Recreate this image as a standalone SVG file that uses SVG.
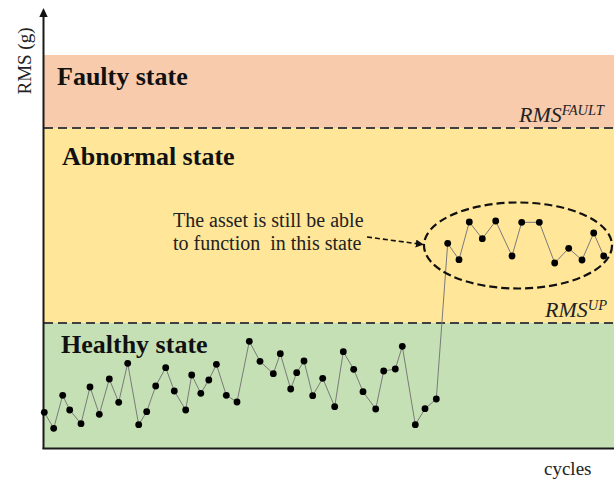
<svg xmlns="http://www.w3.org/2000/svg" width="614" height="484" viewBox="0 0 614 484">
  <style>
    .band-title { font-family: "Liberation Serif", "Times New Roman", serif; font-weight: bold; font-size: 26px; fill: #111; }
    .label { font-family: "Liberation Serif", "Times New Roman", serif; font-size: 19px; fill: #222; }
    .note { font-family: "Liberation Serif", "Times New Roman", serif; font-size: 20px; fill: #222; }
    .thr { font-family: "Liberation Serif", "Times New Roman", serif; font-style: italic; font-size: 22px; fill: #222; }
    .thr-sup { font-size: 14.5px; }
    .threshold { stroke: #404040; stroke-width: 2; stroke-dasharray: 9 5; fill: none; }
    .trace { fill: none; stroke: #7a7a7a; stroke-width: 1; }
    .pt { fill: #000; }
    .axis { stroke: #1a1a1a; stroke-width: 2; fill: none; }
  </style>
  <defs>
    <marker id="tip" viewBox="0 0 10 10" refX="9" refY="5" markerWidth="5" markerHeight="5" orient="auto">
      <path d="M0,0 L10,5 L0,10 z" fill="#111"/>
    </marker>
  </defs>

  <rect width="614" height="484" fill="#fff"/>

  <!-- state bands -->
  <g id="faulty-band">
    <rect x="44" y="55" width="570" height="73" fill="#F8CBAD"/>
    <text class="band-title" x="57" y="85">Faulty state</text>
  </g>
  <g id="abnormal-band">
    <rect x="44" y="128" width="570" height="195" fill="#FFE699"/>
    <text class="band-title" x="62" y="165">Abnormal state</text>
  </g>
  <g id="healthy-band">
    <rect x="44" y="323" width="570" height="125" fill="#C5E0B4"/>
    <text class="band-title" x="61" y="353">Healthy state</text>
  </g>

  <!-- thresholds -->
  <g id="thresholds">
    <line class="threshold" x1="44" y1="128" x2="614" y2="128"/>
    <line class="threshold" x1="44" y1="323" x2="614" y2="323"/>
    <text class="thr" x="519" y="122">RMS<tspan class="thr-sup" dy="-7">FAULT</tspan></text>
    <text class="thr" x="545" y="317">RMS<tspan class="thr-sup" dy="-7">UP</tspan></text>
  </g>

  <!-- axes -->
  <g id="axes">
    <line class="axis" x1="43.5" y1="449" x2="43.5" y2="15"/>
    <polygon points="43.5,8 39.3,17 47.7,17" fill="#111"/>
    <line class="axis" x1="42.5" y1="448.5" x2="614" y2="448.5"/>
    <text class="label" transform="translate(31,61) rotate(-90)" text-anchor="middle">RMS (g)</text>
    <text class="label" x="544" y="475">cycles</text>
  </g>

  <!-- measured RMS trace -->
  <g id="trace">
    <polyline class="trace" points="44.3,412.3 53.7,428.3 62.7,395.3 69.7,410 81,423.7 90,387 99.3,414.3 109.3,379 118.7,402.3 127.7,363.3 138.7,424.7 146.7,411.7 155.7,386 165.7,367.7 174.3,391 185.7,410 191.7,375 200.8,393.3 208.8,380 216.4,364.3 226.3,395.3 237,402 249.3,341.3 260,361.3 273.3,373.7 280.3,353.7 290.7,389 296.7,372.7 304,361 312.7,395.7 322.7,378.3 334.7,406.7 343.3,351.7 353.7,369.3 363,391.7 375.7,409 383.7,371 395.3,369 402.3,346.3 415.3,424.7 425,408.7 436.3,399 447.7,243.3 459,259.7 469.3,222 482.3,238.7 495.7,221 512,256 521.7,222.3 539.3,222.3 554.7,263 568.7,248.3 582,260 593.7,233 603.7,256"/>
    <g class="pt">
      <circle cx="44.3" cy="412.3" r="3.4"/>
      <circle cx="53.7" cy="428.3" r="3.4"/>
      <circle cx="62.7" cy="395.3" r="3.4"/>
      <circle cx="69.7" cy="410" r="3.4"/>
      <circle cx="81" cy="423.7" r="3.4"/>
      <circle cx="90" cy="387" r="3.4"/>
      <circle cx="99.3" cy="414.3" r="3.4"/>
      <circle cx="109.3" cy="379" r="3.4"/>
      <circle cx="118.7" cy="402.3" r="3.4"/>
      <circle cx="127.7" cy="363.3" r="3.4"/>
      <circle cx="138.7" cy="424.7" r="3.4"/>
      <circle cx="146.7" cy="411.7" r="3.4"/>
      <circle cx="155.7" cy="386" r="3.4"/>
      <circle cx="165.7" cy="367.7" r="3.4"/>
      <circle cx="174.3" cy="391" r="3.4"/>
      <circle cx="185.7" cy="410" r="3.4"/>
      <circle cx="191.7" cy="375" r="3.4"/>
      <circle cx="200.8" cy="393.3" r="3.4"/>
      <circle cx="208.8" cy="380" r="3.4"/>
      <circle cx="216.4" cy="364.3" r="3.4"/>
      <circle cx="226.3" cy="395.3" r="3.4"/>
      <circle cx="237" cy="402" r="3.4"/>
      <circle cx="249.3" cy="341.3" r="3.4"/>
      <circle cx="260" cy="361.3" r="3.4"/>
      <circle cx="273.3" cy="373.7" r="3.4"/>
      <circle cx="280.3" cy="353.7" r="3.4"/>
      <circle cx="290.7" cy="389" r="3.4"/>
      <circle cx="296.7" cy="372.7" r="3.4"/>
      <circle cx="304" cy="361" r="3.4"/>
      <circle cx="312.7" cy="395.7" r="3.4"/>
      <circle cx="322.7" cy="378.3" r="3.4"/>
      <circle cx="334.7" cy="406.7" r="3.4"/>
      <circle cx="343.3" cy="351.7" r="3.4"/>
      <circle cx="353.7" cy="369.3" r="3.4"/>
      <circle cx="363" cy="391.7" r="3.4"/>
      <circle cx="375.7" cy="409" r="3.4"/>
      <circle cx="383.7" cy="371" r="3.4"/>
      <circle cx="395.3" cy="369" r="3.4"/>
      <circle cx="402.3" cy="346.3" r="3.4"/>
      <circle cx="415.3" cy="424.7" r="3.4"/>
      <circle cx="425" cy="408.7" r="3.4"/>
      <circle cx="436.3" cy="399" r="3.4"/>
      <circle cx="447.7" cy="243.3" r="3.4"/>
      <circle cx="459" cy="259.7" r="3.4"/>
      <circle cx="469.3" cy="222" r="3.4"/>
      <circle cx="482.3" cy="238.7" r="3.4"/>
      <circle cx="495.7" cy="221" r="3.4"/>
      <circle cx="512" cy="256" r="3.4"/>
      <circle cx="521.7" cy="222.3" r="3.4"/>
      <circle cx="539.3" cy="222.3" r="3.4"/>
      <circle cx="554.7" cy="263" r="3.4"/>
      <circle cx="568.7" cy="248.3" r="3.4"/>
      <circle cx="582" cy="260" r="3.4"/>
      <circle cx="593.7" cy="233" r="3.4"/>
      <circle cx="603.7" cy="256" r="3.4"/>
    </g>
  </g>

  <!-- abnormal cluster highlight -->
  <g id="cluster">
    <ellipse cx="518" cy="245.5" rx="94" ry="43" fill="none" stroke="#111" stroke-width="2.2" stroke-dasharray="8 4"/>
  </g>

  <!-- annotation -->
  <g id="note">
    <text class="note" x="173" y="227">The asset is still be able</text>
    <text class="note" x="173" y="250" xml:space="preserve">to function  in this state</text>
  </g>

  <g id="connectors">
    <line x1="367" y1="237" x2="423" y2="244.5" stroke="#111" stroke-width="1.6" stroke-dasharray="5 3" marker-end="url(#tip)"/>
  </g>
</svg>
